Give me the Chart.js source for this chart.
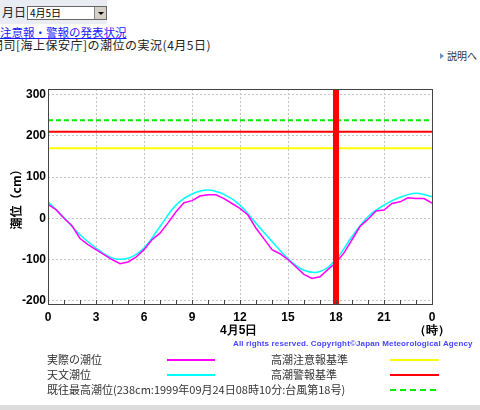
<!DOCTYPE html>
<html lang="ja">
<head>
<meta charset="utf-8">
<title>門司[海上保安庁]の潮位の実況</title>
<script src="https://cdn.jsdelivr.net/npm/chart.js@4.4.0/dist/chart.umd.min.js"></script>
<style>
  body { margin: 0; width: 480px; height: 410px; overflow: hidden; background: #fff; position: relative;
         font-family: "Noto Sans CJK JP", sans-serif; color: #333; }
  .abs { position: absolute; white-space: nowrap; }
  #chart { position: absolute; left: 0; top: 0; }
  #topbar { left: 0; top: 0; width: 107px; height: 24px; background: #e9edf3; }
  #daylbl { left: 2px; top: 5px; font-size: 12px; color: #222; line-height: 14px; }
  #select { left: 27px; top: 6px; width: 76px; height: 12px; border: 1px solid #666; background: #fff;
            font-size: 10px; line-height: 12px; padding-left: 2px; color: #000; }
  #select .btn { position: absolute; right: 0; top: 0; width: 11px; height: 12px; background: #d4d0c8;
                 border-left: 1px solid #888; }
  #select .btn::after { content: ""; position: absolute; left: 3px; top: 5px; border-left: 3px solid transparent;
                        border-right: 3px solid transparent; border-top: 3px solid #000; }
  #link { left: 0; top: 25px; font-size: 11.5px; line-height: 14px; color: #1a1aff; text-decoration: underline; }
  #heading { left: -9px; top: 38px; font-size: 12px; letter-spacing: 0.5px; line-height: 14px; color: #222; }
  #explain { left: 440px; top: 50px; font-size: 10px; line-height: 12px; color: #333; }
  #explain::before { content: ""; display: inline-block; margin-right: 3px; border-top: 3px solid transparent;
                     border-bottom: 3px solid transparent; border-left: 4px solid #6a8fc8; vertical-align: 1px; }
  .axt { font-family: "Liberation Sans", sans-serif; font-weight: bold; font-size: 12px; color: #000; line-height: 14px; }
  #copy { left: 233px; top: 338px; font-family: "Liberation Sans", sans-serif; font-weight: bold; font-size: 8px;
          letter-spacing: 0.15px; color: #4646ff; line-height: 11px; }
  .leg { font-size: 11px; line-height: 13px; color: #333; }
  .sw { position: absolute; height: 0; border-top: 2px solid; }
  #bottombar { left: 0; top: 405px; width: 480px; height: 5px; background: #dcdcdc; }
</style>
</head>
<body>
<div class="abs" id="topbar"></div>
<div class="abs" id="daylbl">月日</div>
<div class="abs" id="select">4月5日<span class="btn"></span></div>
<div class="abs" id="link">注意報・警報の発表状況</div>
<div class="abs" id="heading">門司[海上保安庁]の潮位の実況(4月5日)</div>
<div class="abs" id="explain">説明へ</div>

<canvas id="chart" width="480" height="410"></canvas>

<div class="abs axt" style="left:220px; top:323px;">4月5日</div>
<div class="abs axt" style="left:414px; top:323px;">（時）</div>
<div class="abs" id="copy">All rights reserved. Copyright©Japan Meteorological Agency</div>

<div class="abs leg" style="left:47px; top:353px;">実際の潮位</div>
<div class="abs leg" style="left:47px; top:368px;">天文潮位</div>
<div class="abs leg" style="left:47px; top:383px;">既往最高潮位(238cm:1999年09月24日08時10分:台風第18号)</div>
<div class="abs leg" style="left:271px; top:353px;">高潮注意報基準</div>
<div class="abs leg" style="left:271px; top:368px;">高潮警報基準</div>
<div class="sw" style="left:167px; top:359px; width:48px; border-color:#ff00ff;"></div>
<div class="sw" style="left:167px; top:374px; width:48px; border-color:#00ffff;"></div>
<div class="sw" style="left:390px; top:359px; width:49px; border-color:#ffff00;"></div>
<div class="sw" style="left:390px; top:374px; width:49px; border-color:#ff0000;"></div>
<div class="sw" style="left:390px; top:389px; width:46px; border-top:2px dashed #00ee00;"></div>
<div class="abs" id="bottombar"></div>

<script>
// x axis: hours of the day
const hourTicks = [0, 3, 6, 9, 12, 15, 18, 21, 24];
const hourLabels = ['0', '3', '6', '9', '12', '15', '18', '21', '0'];
const minorHours = [1, 2, 4, 5, 7, 8, 10, 11, 13, 14, 16, 17, 19, 20, 22, 23];
const levelTicks = [-200, -100, 0, 100, 200, 300];

// astronomical tide (cm), hourly
const astroHours = [0, 1, 2, 3, 4, 5, 6, 7, 8, 9, 10, 11, 12, 13, 14, 15, 16, 17, 18, 19, 20, 21, 22, 23, 24];
const astroTide = [40, 2, -40, -72, -96, -97, -72, -20, 32, 59, 69, 58, 32, -12, -56, -98, -126, -129, -100, -44, 4, 32, 51, 61, 53];

// observed tide (cm), every 30 min
const obsHours = [0, 0.5, 1, 1.5, 2, 2.5, 3, 3.5, 4, 4.5, 5, 5.5, 6, 6.5, 7, 7.5, 8, 8.5, 9, 9.5, 10, 10.5, 11, 11.5,
                  12, 12.5, 13, 13.5, 14, 14.5, 15, 15.5, 16, 16.5, 17, 17.5, 18, 18.5, 19, 19.5, 20, 20.5, 21, 21.5,
                  22, 22.5, 23, 23.5, 24];
const obsTide = [34, 21, 0, -18, -49, -64, -76, -88, -100, -110, -106, -94, -76, -52, -36, -11, 16, 38, 43, 54, 57, 57, 48, 36,
                 24, 8, -24, -50, -76, -86, -100, -118, -136, -146, -142, -124, -108, -84, -52, -20, -2, 18, 20, 36,
                 40, 50, 48, 48, 37];

// reference levels (cm)
const cautionLevel = 170;
const warningLevel = 210;
const recordLevel = 238;
const nowHour = 18;

const yMin = -208, yMax = 314;

const pts = (xs, ys) => xs.map((x, i) => ({ x, y: ys[i] }));
const flat = (v) => [{ x: 0, y: v }, { x: 24, y: v }];

// hour marks on the bottom edge + box round the plot
const frame = {
  id: 'frame',
  afterDatasetsDraw(chart) {
    const { ctx, chartArea: a, scales: { x } } = chart;
    ctx.save();
    ctx.strokeStyle = '#444';
    ctx.lineWidth = 1;
    ctx.beginPath();
    minorHours.concat(hourTicks).forEach(h => {
      const px = Math.round(x.getPixelForValue(h)) + 0.5;
      ctx.moveTo(px, a.bottom);
      ctx.lineTo(px, a.bottom - 4);
    });
    ctx.stroke();
    ctx.strokeRect(Math.round(a.left) + 0.5, Math.round(a.top) + 0.5, Math.round(a.width), Math.round(a.height));
    ctx.restore();
  }
};

new Chart(document.getElementById('chart'), {
  type: 'line',
  data: {
    datasets: [
      { data: [{ x: nowHour, y: yMin }, { x: nowHour, y: yMax }], borderColor: '#ff0000', borderWidth: 6, order: 0 },
      { data: pts(obsHours, obsTide), borderColor: '#ff00ff', borderWidth: 1.5, order: 1 },
      { data: pts(astroHours, astroTide), borderColor: '#00ffff', borderWidth: 1.5, tension: 0.4, order: 2 },
      { data: flat(recordLevel), borderColor: '#00ee00', borderWidth: 2, borderDash: [5, 3], order: 3 },
      { data: flat(warningLevel), borderColor: '#ff0000', borderWidth: 2, order: 3 },
      { data: flat(cautionLevel), borderColor: '#ffff00', borderWidth: 2, order: 3 }
    ]
  },
  options: {
    responsive: false,
    animation: false,
    layout: { padding: { left: 0, top: 89, right: 48, bottom: 86 } },
    elements: { point: { radius: 0 }, line: { tension: 0 } },
    plugins: { legend: { display: false }, tooltip: { enabled: false } },
    scales: {
      x: {
        type: 'linear', min: 0, max: 24,
        afterFit: (s) => { s.height = 20; },
        afterBuildTicks: (s) => { s.ticks = hourTicks.map(v => ({ value: v })); },
        grid: { color: '#c4c4c4', drawTicks: false },
        border: { display: false, dash: [2, 2] },
        ticks: {
          padding: 6, color: '#000', autoSkip: false, maxRotation: 0,
          font: { family: 'Liberation Sans', size: 12, weight: 'bold' },
          callback: (v) => hourLabels[hourTicks.indexOf(v)]
        }
      },
      y: {
        type: 'linear', min: yMin, max: yMax,
        afterFit: (s) => { s.width = 48; },
        afterBuildTicks: (s) => { s.ticks = levelTicks.map(v => ({ value: v })); },
        grid: { color: '#c4c4c4', drawTicks: false },
        border: { display: false, dash: [2, 2] },
        ticks: { padding: 2, color: '#000', font: { family: 'Liberation Sans', size: 12, weight: 'bold' } },
        title: {
          display: true, text: '潮位（cm）', color: '#000', padding: { top: 9, bottom: 0 },
          font: { family: 'Noto Sans CJK JP', size: 12, weight: 'bold' }
        }
      }
    }
  },
  plugins: [frame]
});
</script>
</body>
</html>
